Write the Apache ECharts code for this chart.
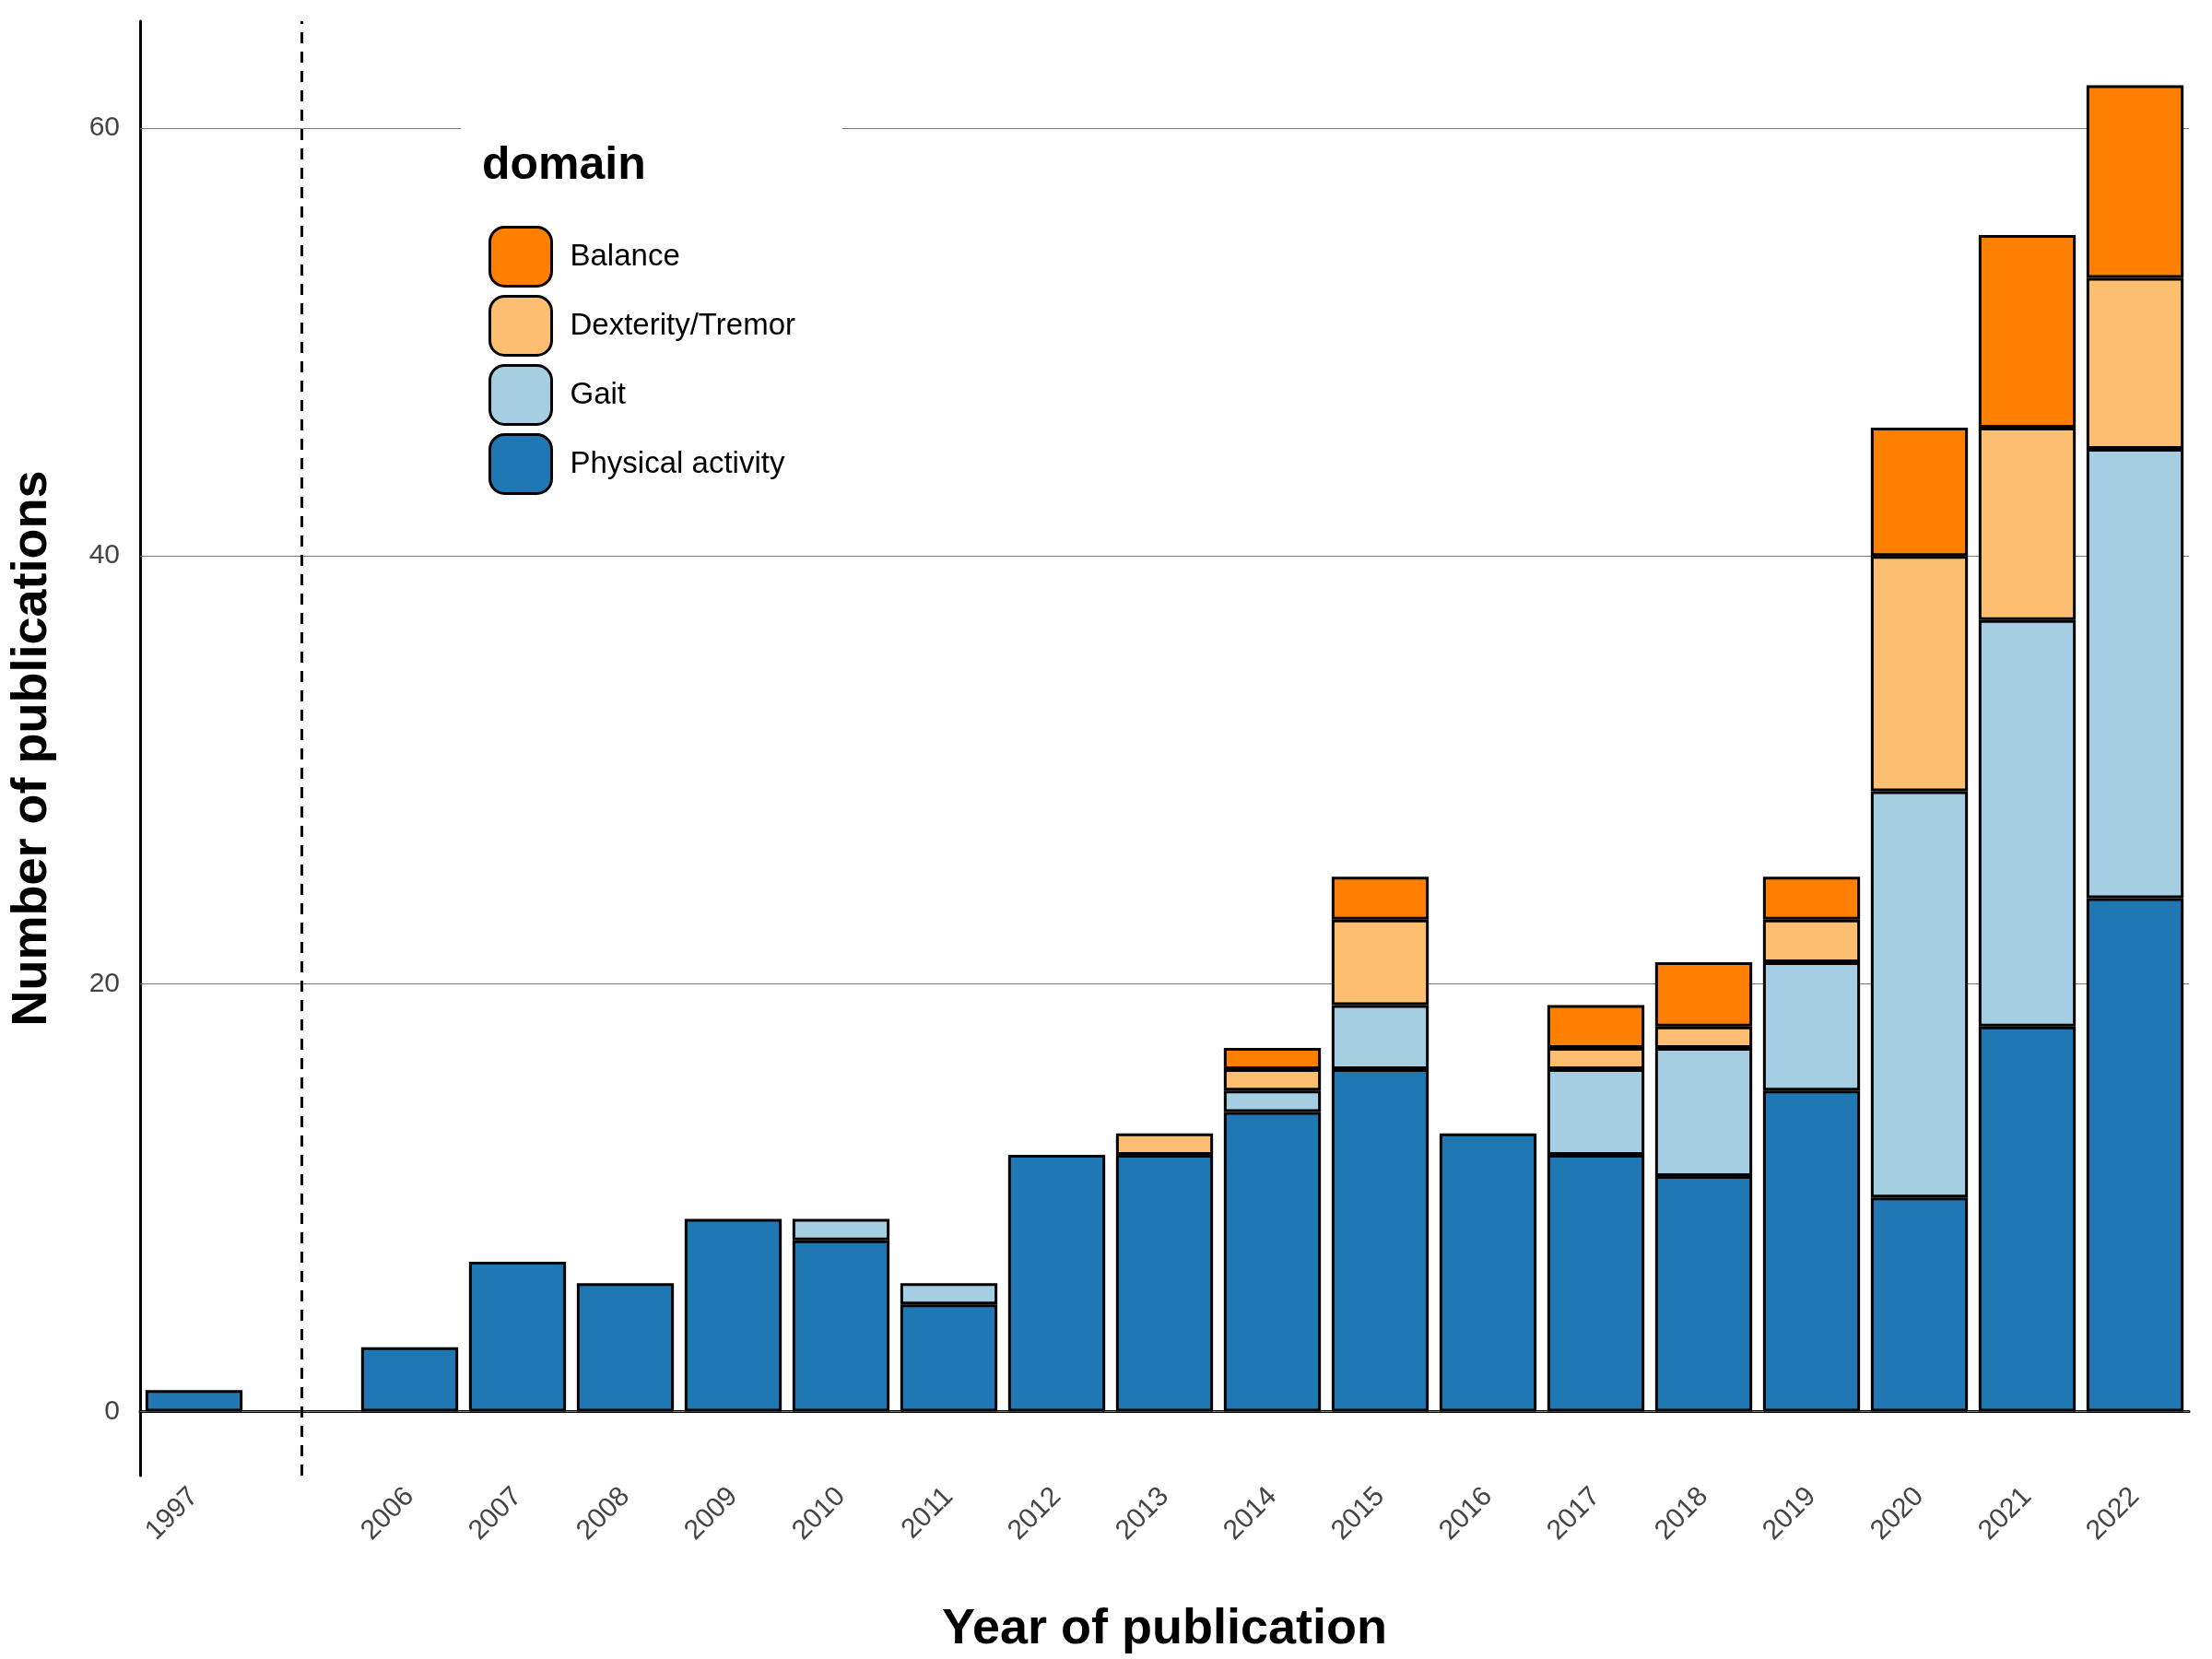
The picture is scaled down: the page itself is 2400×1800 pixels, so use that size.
<!DOCTYPE html>
<html lang="en">
<head>
    <meta charset="UTF-8">
    <title>Publications by domain</title>
    <script src="https://cdn.jsdelivr.net/npm/echarts@6/dist/echarts.min.js"></script>
    <style>body{margin:0;background:#fff}</style>
</head>
<body>
<div id="main" style="width:2400px;height:1800px;"></div>
<script>
    // ' ' is the empty slot where the dashed break line sits
    const years = ['1997', ' ', '2006', '2007', '2008', '2009', '2010', '2011', '2012', '2013', '2014',
        '2015', '2016', '2017', '2018', '2019', '2020', '2021', '2022'];
    const physical = [1, null, 3, 7, 6, 9, 8, 5, 12, 12, 14, 16, 13, 12, 11, 15, 10, 18, 24];
    const gait = [0, null, 0, 0, 0, 0, 1, 1, 0, 0, 1, 3, 0, 4, 6, 6, 19, 19, 21];
    const dexterity = [0, null, 0, 0, 0, 0, 0, 0, 0, 1, 1, 4, 0, 1, 1, 2, 11, 9, 8];
    const balance = [0, null, 0, 0, 0, 0, 0, 0, 0, 0, 1, 2, 0, 2, 3, 2, 6, 9, 9];
    const gridValues = [0, 20, 40, 60];

    const font = 'Liberation Sans';
    let myChart = echarts.init(document.getElementById('main'));

    function bar(name, data, color) {
        return {
            name: name,
            type: 'bar',
            stack: 'total',
            data: data.map(v => (v === 0 ? null : v)),
            barCategoryGap: '10%',
            itemStyle: { color: color, borderColor: '#000', borderWidth: 3 }
        };
    }

    let series = [
        bar('Physical activity', physical, '#1f78b4'),
        bar('Gait', gait, '#a6cee3'),
        bar('Dexterity/Tremor', dexterity, '#fdbf6f'),
        bar('Balance', balance, '#ff7f00')
    ];
    series[0].markLine = {
        silent: true,
        symbol: 'none',
        label: { show: false },
        z: 1,
        data: gridValues.map(v => ({ yAxis: v, lineStyle: { color: '#777', width: 1.2, type: 'solid' } }))
            .concat([{ xAxis: ' ', lineStyle: { color: '#000', width: 3, type: [12, 9] } }])
    };
    series[0].z = 2;

    let option = {
        animation: false,
        textStyle: { fontFamily: font },
        grid: { left: 150, right: 25, top: 23, bottom: 193 },
        legend: {
            data: ['Balance', 'Dexterity/Tremor', 'Gait', 'Physical activity'],
            orient: 'vertical',
            left: 525,
            top: 240,
            z: 10,
            itemWidth: 67,
            itemHeight: 64,
            itemGap: 8,
            itemStyle: { borderColor: '#000', borderWidth: 3 },
            textStyle: { fontSize: 33, color: '#000', fontFamily: font, padding: [0, 0, 0, 15] }
        },
        graphic: [
            { type: 'rect', left: 500, top: 120, z: 5, shape: { width: 414, height: 420 }, style: { fill: '#fff' } },
            { type: 'text', left: 523, top: 155, z: 10,
              style: { text: 'domain', font: 'bold 50px "Liberation Sans"', fill: '#000' } }
        ],
        xAxis: {
            type: 'category',
            data: years,
            name: 'Year of publication',
            nameLocation: 'middle',
            nameGap: 140,
            nameTextStyle: { fontSize: 54, fontWeight: 'bold', color: '#000' },
            axisLine: { lineStyle: { color: '#000', width: 3 } },
            axisTick: { alignWithLabel: true, interval: 0, lineStyle: { color: '#333', width: 2 } },
            axisLabel: { rotate: 45, interval: 0, fontSize: 30, color: '#444', margin: 18 }
        },
        yAxis: {
            type: 'value',
            min: -3,
            max: 65,
            interval: 1,
            name: 'Number of publications',
            nameLocation: 'middle',
            nameGap: 90,
            nameTextStyle: { fontSize: 54, fontWeight: 'bold', color: '#000' },
            axisLine: { show: true, lineStyle: { color: '#000', width: 3 } },
            axisTick: { show: false },
            splitLine: { show: false },
            axisLabel: {
                fontSize: 30, color: '#444', margin: 22,
                formatter: v => (gridValues.indexOf(v) >= 0 ? String(v) : '')
            }
        },
        series: series
    };
    myChart.setOption(option);
</script>
</body>
</html>
